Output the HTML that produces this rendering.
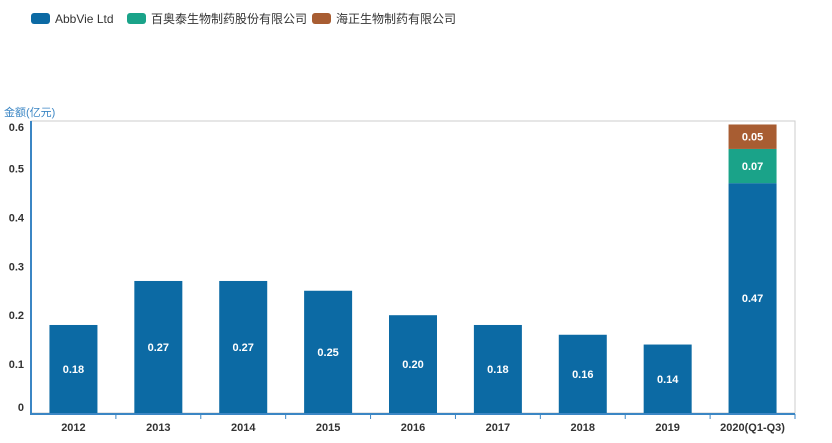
<!DOCTYPE html>
<html><head><meta charset="utf-8"><style>
body{margin:0;background:#fff;}
svg text{font-family:"Liberation Sans","Noto Sans CJK SC",sans-serif;}
</style></head><body>
<svg width="832" height="438" xmlns="http://www.w3.org/2000/svg">
<g font-size="12" fill="#333">
 <g><rect x="31" y="13" width="19" height="11" rx="3" fill="#0c6aa4"/><text x="55" y="23">AbbVie Ltd</text></g>
 <g><rect x="127" y="13" width="19" height="11" rx="3" fill="#1aa389"/><text x="151" y="23">百奥泰生物制药股份有限公司</text></g>
 <g><rect x="312" y="13" width="19" height="11" rx="3" fill="#a85d32"/><text x="336" y="23">海正生物制药有限公司</text></g>
</g>
<text x="4" y="116" font-size="11" fill="#3b86c4">金额(亿元)</text>
<rect x="31" y="121" width="764" height="292" fill="none" stroke="#ccc"/>
<g id="yticks"></g>
<g id="bars"></g>
<g id="xaxis"></g>
<line x1="31" y1="121" x2="31" y2="414" stroke="#3b86c4" stroke-width="2"/>
<line x1="30" y1="414" x2="795" y2="414" stroke="#3b86c4" stroke-width="2"/>
</svg>
<script>
const categories=["2012","2013","2014","2015","2016","2017","2018","2019","2020(Q1-Q3)"];
const abbvie=[0.18,0.27,0.27,0.25,0.20,0.18,0.16,0.14,0.47];
const baiaotai=[0,0,0,0,0,0,0,0,0.07];
const haizheng=[0,0,0,0,0,0,0,0,0.05];
const yTicks=[0,0.1,0.2,0.3,0.4,0.5,0.6];
const NS="http://www.w3.org/2000/svg";
const x0=31,x1=795,y0=413,scale=489;
const band=(x1-x0)/categories.length;
const yS=v=>y0-v*scale;
const xC=i=>x0+band*(i+0.5);
const yg=document.getElementById('yticks');
yTicks.forEach(v=>{
 const t=document.createElementNS(NS,'text');
 
 
 let y=yS(v)+4; y=Math.min(Math.max(y,131),411);
 t.setAttribute('x',24);t.setAttribute('y',y);t.setAttribute('text-anchor','end');
 t.setAttribute('font-size','11');t.setAttribute('font-weight','bold');t.setAttribute('fill','#333');
 t.textContent=v===0?'0':v.toFixed(1);yg.appendChild(t);
});
const bg=document.getElementById('bars');
const series=[[abbvie,'#0c6aa4','abbvie'],[baiaotai,'#1aa389','baiaotai'],[haizheng,'#a85d32','haizheng']];
categories.forEach((c,i)=>{
 let base=0;
 series.forEach(([arr,col,nm])=>{
  const v=arr[i]; if(!v) return;
  const r=document.createElementNS(NS,'rect');
  
  
  r.setAttribute('x',xC(i)-24);r.setAttribute('width',48);
  r.setAttribute('y',yS(base+v));r.setAttribute('height',v*scale);
  r.setAttribute('fill',col);bg.appendChild(r);
  const t=document.createElementNS(NS,'text');
  
  
  t.setAttribute('x',xC(i));t.setAttribute('y',yS(base+v/2)+4);
  t.setAttribute('text-anchor','middle');t.setAttribute('font-size','11');
  t.setAttribute('font-weight','bold');t.setAttribute('fill','#fff');
  t.textContent=v.toFixed(2);bg.appendChild(t);
  base+=v;
 });
});
const xg=document.getElementById('xaxis');
categories.forEach((c,i)=>{
 const l=document.createElementNS(NS,'line');
 
 
 l.setAttribute('x1',x0+band*(i+1));l.setAttribute('x2',x0+band*(i+1));
 l.setAttribute('y1',414);l.setAttribute('y2',419);l.setAttribute('stroke','#3b86c4');xg.appendChild(l);
 const t=document.createElementNS(NS,'text');
 
 
 t.setAttribute('x',xC(i));t.setAttribute('y',431);t.setAttribute('text-anchor','middle');
 t.setAttribute('font-size','11');t.setAttribute('font-weight','bold');t.setAttribute('fill','#333');
 t.textContent=c;xg.appendChild(t);
});
</script>
</body></html>
